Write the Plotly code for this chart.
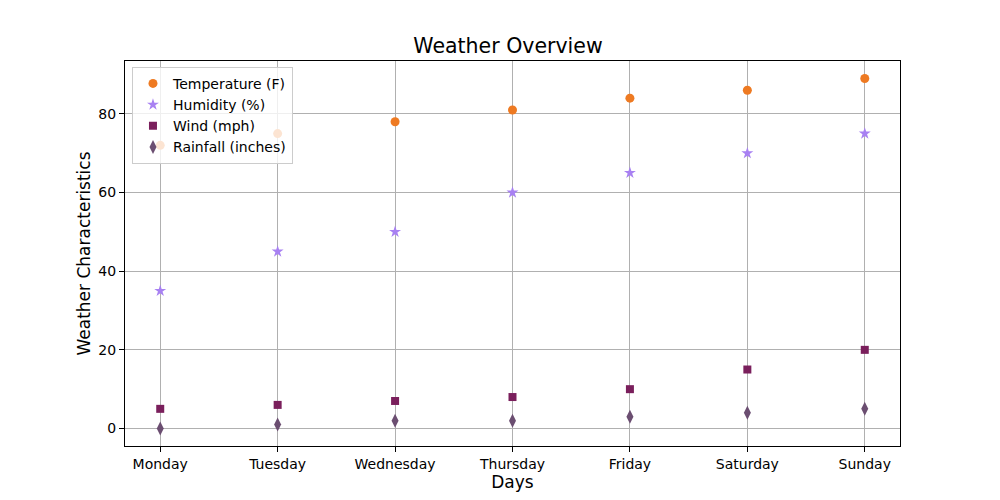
import plotly.graph_objects as go

days = ["Monday", "Tuesday", "Wednesday", "Thursday", "Friday", "Saturday", "Sunday"]
temperature = [72, 75, 78, 81, 84, 86, 89]
humidity = [35, 45, 50, 60, 65, 70, 75]
wind = [5, 6, 7, 8, 10, 15, 20]
rainfall = [0, 1, 2, 2, 3, 4, 5]

series = [
    ("Temperature (F)", temperature, "circle", "#ee7a22", 9),
    ("Humidity (%)", humidity, "star", "#a881f2", 9),
    ("Wind (mph)", wind, "square", "#7a1f5c", 8),
    ("Rainfall (inches)", rainfall, "diamond-tall", "#6b4e71", 10),
]

fig = go.Figure()
for name, vals, sym, col, sz in series:
    fig.add_trace(go.Scatter(
        x=days, y=vals, mode="markers", name=name, legendgroup=name,
        marker=dict(symbol=sym, color=col, size=sz, line=dict(width=0)),
    ))

font = "DejaVu Sans, Arial, sans-serif"
axis_common = dict(
    showline=True, linecolor="black", linewidth=1, mirror=True,
    ticks="outside", ticklen=5, tickcolor="black", tickwidth=1,
    showgrid=True, gridcolor="#b0b0b0", gridwidth=1,
    zeroline=False, tickfont=dict(family=font, size=14, color="black"),
    layer="above traces",
)

fig.update_layout(
    width=1000, height=500,
    paper_bgcolor="white", plot_bgcolor="white",
    margin=dict(l=117, r=108, t=53, b=62),
    title=dict(text="Weather Overview", x=0.5, xanchor="center", y=0.924, yanchor="middle",
               font=dict(family=font, size=20.5, color="black")),
    font=dict(family=font, color="black"),
    xaxis=dict(axis_common, range=[-0.3, 6.3],
               title=dict(text="Days", font=dict(family=font, size=17), standoff=5)),
    yaxis=dict(axis_common, range=[-4.45, 93.45], tickvals=[0, 20, 40, 60, 80],
               title=dict(text="Weather Characteristics", font=dict(family=font, size=17), standoff=3)),
    legend=dict(x=0.009, y=0.985, xanchor="left", yanchor="top",
                bgcolor="rgba(255,255,255,0.8)", bordercolor="#cccccc", borderwidth=1,
                font=dict(family=font, size=14, color="black"), tracegroupgap=0),
)

fig.write_html("out.html")
